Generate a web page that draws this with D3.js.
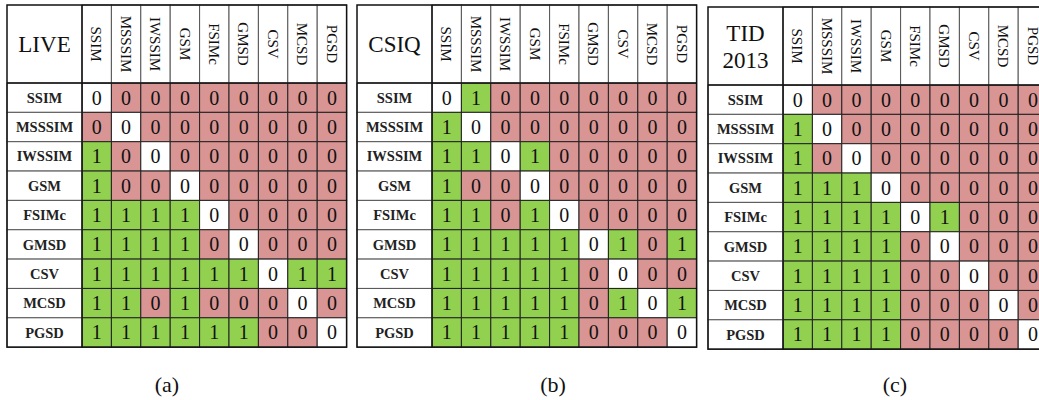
<!DOCTYPE html>
<html>
<head>
<meta charset="utf-8">
<script src="https://cdn.jsdelivr.net/npm/d3@7"></script>
<style>
  body { margin: 0; background: #fff; }
  svg { display: block; }
  svg text { font-family: "Liberation Serif", "Times New Roman", Tinos, serif; }
</style>
</head>
<body>
<div id="chart"></div>
<script>
const methods = ["SSIM", "MSSSIM", "IWSSIM", "GSM", "FSIMc", "GMSD", "CSV", "MCSD", "PGSD"];

const liveMatrix = [
    [0, 0, 0, 0, 0, 0, 0, 0, 0],
    [0, 0, 0, 0, 0, 0, 0, 0, 0],
    [1, 0, 0, 0, 0, 0, 0, 0, 0],
    [1, 0, 0, 0, 0, 0, 0, 0, 0],
    [1, 1, 1, 1, 0, 0, 0, 0, 0],
    [1, 1, 1, 1, 0, 0, 0, 0, 0],
    [1, 1, 1, 1, 1, 1, 0, 1, 1],
    [1, 1, 0, 1, 0, 0, 0, 0, 0],
    [1, 1, 1, 1, 1, 1, 0, 0, 0]
];

const csiqMatrix = [
    [0, 1, 0, 0, 0, 0, 0, 0, 0],
    [1, 0, 0, 0, 0, 0, 0, 0, 0],
    [1, 1, 0, 1, 0, 0, 0, 0, 0],
    [1, 0, 0, 0, 0, 0, 0, 0, 0],
    [1, 1, 0, 1, 0, 0, 0, 0, 0],
    [1, 1, 1, 1, 1, 0, 1, 0, 1],
    [1, 1, 1, 1, 1, 0, 0, 0, 0],
    [1, 1, 1, 1, 1, 0, 1, 0, 1],
    [1, 1, 1, 1, 1, 0, 0, 0, 0]
];

const tidMatrix = [
    [0, 0, 0, 0, 0, 0, 0, 0, 0],
    [1, 0, 0, 0, 0, 0, 0, 0, 0],
    [1, 0, 0, 0, 0, 0, 0, 0, 0],
    [1, 1, 1, 0, 0, 0, 0, 0, 0],
    [1, 1, 1, 1, 0, 1, 0, 0, 0],
    [1, 1, 1, 1, 0, 0, 0, 0, 0],
    [1, 1, 1, 1, 0, 0, 0, 0, 0],
    [1, 1, 1, 1, 0, 0, 0, 0, 0],
    [1, 1, 1, 1, 0, 0, 0, 0, 0]
];

const panelTitles = [["LIVE"], ["CSIQ"], ["TID", "2013"]];
const captions = ["(a)", "(b)", "(c)"];
const matrices = [liveMatrix, csiqMatrix, tidMatrix];

const width = 1039;
const height = 400;

const panelX = [7, 357, 708];
const panelY = [5, 5, 7];
const captionX = [167, 553, 895];
const labelW = 75;
const cellW = 29.4;
const headerH = 78;
const rowH = 29.35;

const green = "#92d050";
const pink = "#d99594";

const svg = d3.select("#chart")
    .append("svg")
    .attr("width", width)
    .attr("height", height);

matrices.forEach((matrix, p) => {
    const g = svg.append("g")
        .attr("transform", `translate(${panelX[p]}, ${panelY[p]})`);

    const xScale = d3.scaleBand()
        .domain(methods)
        .range([labelW, labelW + cellW * methods.length]);

    const yScale = d3.scaleBand()
        .domain(methods)
        .range([headerH, headerH + rowH * methods.length]);

    const cells = [];
    matrix.forEach((row, i) => {
        row.forEach((v, j) => {
            cells.push({ row: methods[i], col: methods[j], value: v, diag: i === j });
        });
    });

    // cell backgrounds
    g.selectAll(".cell")
        .data(cells)
        .enter()
        .append("rect")
        .attr("class", "cell")
        .attr("x", d => xScale(d.col))
        .attr("y", d => yScale(d.row))
        .attr("width", xScale.bandwidth())
        .attr("height", yScale.bandwidth())
        .attr("fill", d => d.diag ? "#fff" : (d.value === 1 ? green : pink))
        .attr("stroke", "#222")
        .attr("stroke-width", 1);

    g.selectAll(".val")
        .data(cells)
        .enter()
        .append("text")
        .attr("class", "val")
        .attr("x", d => xScale(d.col) + xScale.bandwidth() / 2)
        .attr("y", d => yScale(d.row) + yScale.bandwidth() / 2 + 7)
        .attr("text-anchor", "middle")
        .attr("font-size", "20px")
        .attr("fill", "#111")
        .text(d => d.value);

    // header cells
    g.selectAll(".colhead")
        .data(methods)
        .enter()
        .append("rect")
        .attr("class", "colhead")
        .attr("x", d => xScale(d))
        .attr("y", 0)
        .attr("width", xScale.bandwidth())
        .attr("height", headerH)
        .attr("fill", "#fff")
        .attr("stroke", "#555")
        .attr("stroke-width", 1);

    g.selectAll(".colname")
        .data(methods)
        .enter()
        .append("text")
        .attr("class", "colname")
        .attr("transform", d => `translate(${xScale(d) + xScale.bandwidth() / 2}, ${headerH / 2}) rotate(90)`)
        .attr("text-anchor", "middle")
        .attr("dy", "0.35em")
        .attr("font-size", "15px")
        .attr("fill", "#111")
        .text(d => d);

    g.selectAll(".rowhead")
        .data(methods)
        .enter()
        .append("rect")
        .attr("class", "rowhead")
        .attr("x", 0)
        .attr("y", d => yScale(d))
        .attr("width", labelW)
        .attr("height", yScale.bandwidth())
        .attr("fill", "#fff")
        .attr("stroke", "#555")
        .attr("stroke-width", 1);

    g.selectAll(".rowname")
        .data(methods)
        .enter()
        .append("text")
        .attr("class", "rowname")
        .attr("x", labelW / 2)
        .attr("y", d => yScale(d) + yScale.bandwidth() / 2)
        .attr("dy", "0.35em")
        .attr("text-anchor", "middle")
        .attr("font-size", "14.5px")
        .attr("font-weight", "bold")
        .attr("fill", "#222")
        .text(d => d);

    // title cell
    const title = panelTitles[p];
    g.append("text")
        .attr("x", labelW / 2)
        .attr("y", headerH / 2 - (title.length - 1) * 13)
        .attr("text-anchor", "middle")
        .attr("font-size", "23px")
        .attr("fill", "#111")
        .selectAll("tspan")
        .data(title)
        .enter()
        .append("tspan")
        .attr("x", labelW / 2)
        .attr("dy", (d, i) => i === 0 ? "0.35em" : "1.15em")
        .text(d => d);

    // grid divider lines
    g.append("line")
        .attr("x1", 0).attr("x2", labelW + cellW * methods.length)
        .attr("y1", headerH).attr("y2", headerH)
        .attr("stroke", "#111").attr("stroke-width", 1.5);
    g.append("line")
        .attr("x1", labelW).attr("x2", labelW)
        .attr("y1", 0).attr("y2", headerH + rowH * methods.length)
        .attr("stroke", "#111").attr("stroke-width", 1.5);

    // outer border
    g.append("rect")
        .attr("x", 0)
        .attr("y", 0)
        .attr("width", labelW + cellW * methods.length)
        .attr("height", headerH + rowH * methods.length)
        .attr("fill", "none")
        .attr("stroke", "#111")
        .attr("stroke-width", 1.5);

    svg.append("text")
        .attr("x", captionX[p])
        .attr("y", 392)
        .attr("text-anchor", "middle")
        .attr("font-size", "22px")
        .attr("fill", "#111")
        .text(captions[p]);
});
</script>
</body>
</html>
